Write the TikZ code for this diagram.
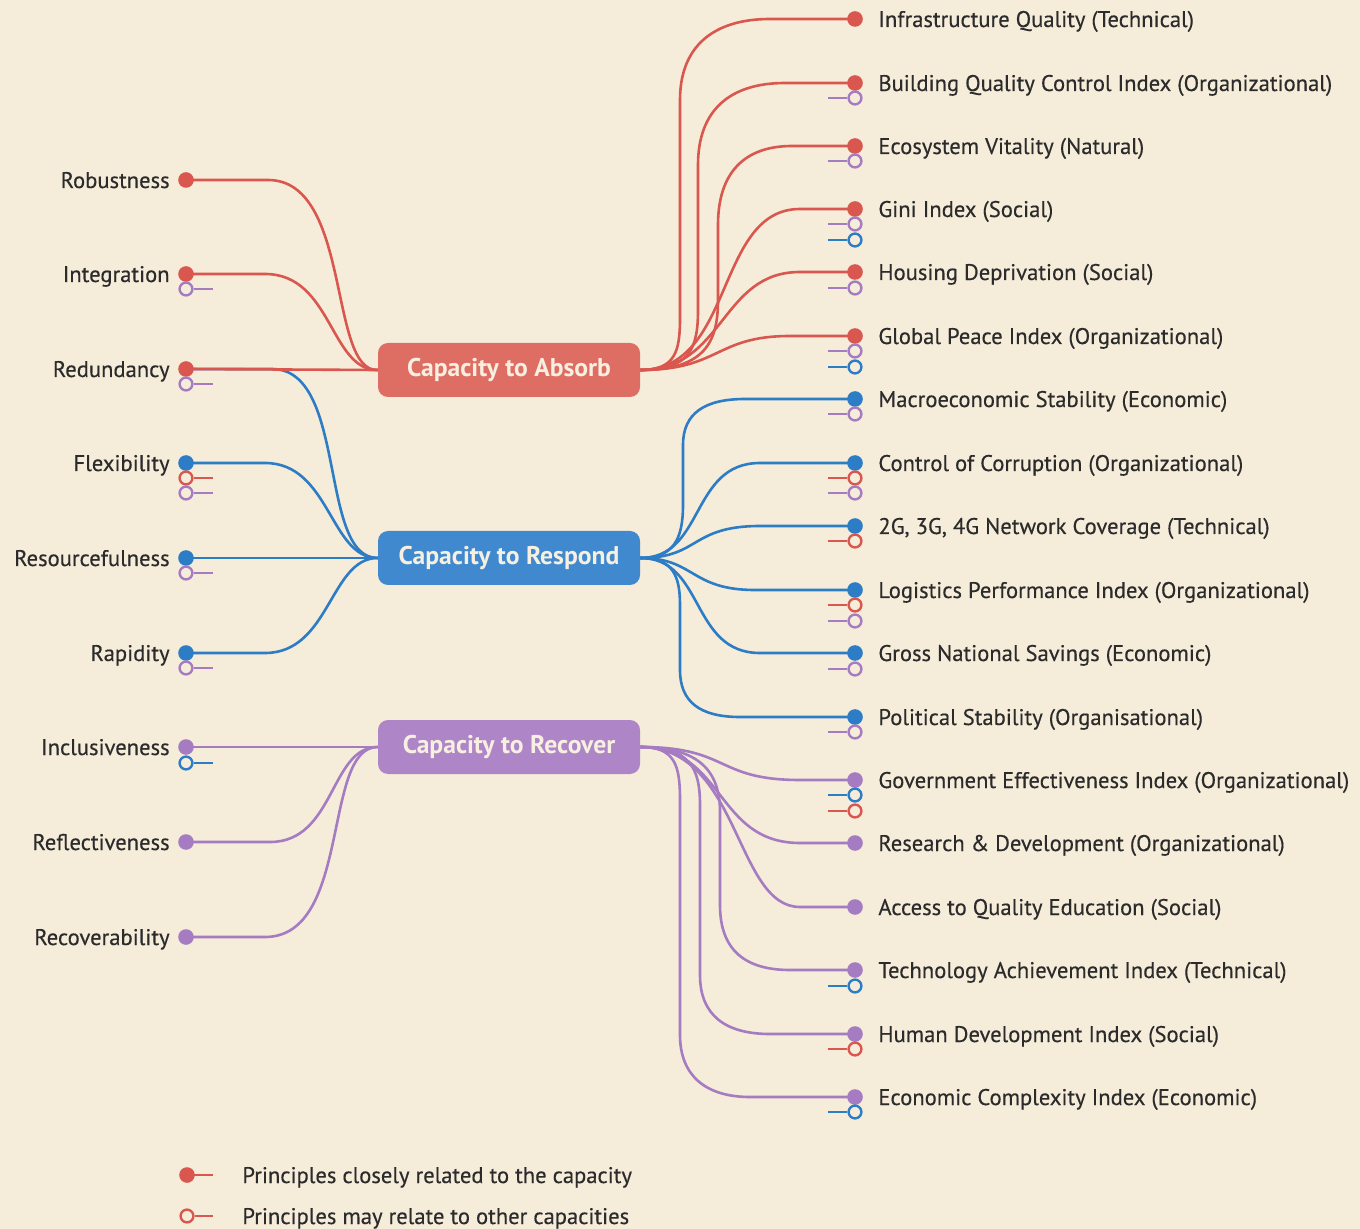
\documentclass[tikz,border=0pt]{standalone}
\usepackage{fontspec}
\setmainfont{PT Sans}
\newfontfamily\labfont{PT Sans}[FakeBold=0.35]
\usetikzlibrary{backgrounds}
\definecolor{bgc}{HTML}{F5ECDA}
\definecolor{cr}{HTML}{D9574E}
\definecolor{cb}{HTML}{2C7CC6}
\definecolor{cp}{HTML}{A57CC2}
\definecolor{fr}{HTML}{DE6E64}
\definecolor{fb}{HTML}{4089CF}
\definecolor{fp}{HTML}{AE86C8}
\definecolor{txt}{HTML}{2B2B2B}
\definecolor{boxtxt}{HTML}{F7EFE0}
\pgfdeclarelayer{lines}
\pgfsetlayers{background,lines,main}
\tikzset{
  conn/.style={line width=1.3pt, line cap=round},
  stub/.style={line width=1.2pt},
  dot/.style={circle, fill=#1, minimum size=7.8pt, inner sep=0pt},
  omark/.style={circle, draw=#1, fill=bgc, line width=1.2pt, minimum size=6.4pt, inner sep=0pt},
  capbox/.style={rounded corners=5pt, fill=#1, minimum width=131pt, minimum height=27pt,
    text=boxtxt, font=\bfseries\fontsize{12.8}{14}\selectfont},
  ltxt/.style={anchor=east, text=txt, inner sep=0pt, text height=8pt, text depth=0pt,
    font=\labfont\fontsize{11.3}{13}\selectfont},
  rtxt/.style={anchor=west, text=txt, inner sep=0pt, text height=8pt, text depth=0pt,
    font=\labfont\fontsize{11.3}{13}\selectfont},
}
\newcommand\LM[3]{\node[omark=#3] (#1) at (186,#2) {};
  \coordinate (#1e) at (213,#2); \draw[stub,#3] (#1.east) -- (#1e);}
\newcommand\RM[3]{\node[omark=#3] (#1) at (855,#2) {};
  \coordinate (#1e) at (828,#2); \draw[stub,#3] (#1e) -- (#1.west);}
\begin{document}
\begin{tikzpicture}[x=0.5pt,y=-0.5pt]
\begin{pgfonlayer}{background}
\fill[bgc] (0,0) rectangle (1360,1229);
\end{pgfonlayer}
\useasboundingbox (0,0) rectangle (1360,1229);

% capacity boxes
\node[capbox=fr] (abs) at (509,370) {Capacity to Absorb};
\node[capbox=fb] (resp) at (509,558) {Capacity to Respond};
\node[capbox=fp] (rec) at (509,747) {Capacity to Recover};

% left principles
\node[dot=cr] (rob) at (186,180) {}; \node[ltxt] (robL) at (170,180) {Robustness};
\node[dot=cr] (integ) at (186,274) {}; \node[ltxt] (integL) at (170,274) {Integration};
\node[dot=cr] (redu) at (186,369) {}; \node[ltxt] (reduL) at (170,369) {Redundancy};
\node[dot=cb] (flex) at (186,463) {}; \node[ltxt] (flexL) at (170,463) {Flexibility};
\node[dot=cb] (resf) at (186,558) {}; \node[ltxt] (resfL) at (170,558) {Resourcefulness};
\node[dot=cb] (rap) at (186,653) {}; \node[ltxt] (rapL) at (170,653) {Rapidity};
\node[dot=cp] (incl) at (186,747) {}; \node[ltxt] (inclL) at (170,747) {Inclusiveness};
\node[dot=cp] (refl) at (186,842) {}; \node[ltxt] (reflL) at (170,842) {Reflectiveness};
\node[dot=cp] (recov) at (186,937) {}; \node[ltxt] (recovL) at (170,937) {Recoverability};

% left markers
\LM{la}{289}{cp}
\LM{lb}{384}{cp}
\LM{lc}{478}{cr}
\LM{ld}{493}{cp}
\LM{le}{573}{cp}
\LM{lf}{668}{cp}
\LM{lg}{763}{cb}

% right indicators
\node[dot=cr] (iq) at (855,19) {}; \node[rtxt] (iqL) at (878,19) {Infrastructure Quality (Technical)};
\node[dot=cr] (bq) at (855,83) {}; \node[rtxt] (bqL) at (878,83) {Building Quality Control Index (Organizational)};
\node[dot=cr] (ev) at (855,146) {}; \node[rtxt] (evL) at (878,146) {Ecosystem Vitality (Natural)};
\node[dot=cr] (gi) at (855,209) {}; \node[rtxt] (giL) at (878,209) {Gini Index (Social)};
\node[dot=cr] (hd) at (855,272) {}; \node[rtxt] (hdL) at (878,272) {Housing Deprivation (Social)};
\node[dot=cr] (gp) at (855,336) {}; \node[rtxt] (gpL) at (878,336) {Global Peace Index (Organizational)};
\node[dot=cb] (ms) at (855,399) {}; \node[rtxt] (msL) at (878,399) {Macroeconomic Stability (Economic)};
\node[dot=cb] (cc) at (855,463) {}; \node[rtxt] (ccL) at (878,463) {Control of Corruption (Organizational)};
\node[dot=cb] (nc) at (855,526) {}; \node[rtxt] (ncL) at (878,526) {2G, 3G, 4G Network Coverage (Technical)};
\node[dot=cb] (lp) at (855,590) {}; \node[rtxt] (lpL) at (878,590) {Logistics Performance Index (Organizational)};
\node[dot=cb] (gs) at (855,653) {}; \node[rtxt] (gsL) at (878,653) {Gross National Savings (Economic)};
\node[dot=cb] (ps) at (855,717) {}; \node[rtxt] (psL) at (878,717) {Political Stability (Organisational)};
\node[dot=cp] (ge) at (855,780) {}; \node[rtxt] (geL) at (878,780) {Government Effectiveness Index (Organizational)};
\node[dot=cp] (rd) at (855,843) {}; \node[rtxt] (rdL) at (878,843) {Research \& Development (Organizational)};
\node[dot=cp] (ae) at (855,907) {}; \node[rtxt] (aeL) at (878,907) {Access to Quality Education (Social)};
\node[dot=cp] (ta) at (855,970) {}; \node[rtxt] (taL) at (878,970) {Technology Achievement Index (Technical)};
\node[dot=cp] (hdi) at (855,1034) {}; \node[rtxt] (hdiL) at (878,1034) {Human Development Index (Social)};
\node[dot=cp] (eci) at (855,1097) {}; \node[rtxt] (eciL) at (878,1097) {Economic Complexity Index (Economic)};

% right markers
\RM{ra}{98}{cp}
\RM{rb}{161}{cp}
\RM{rc}{224}{cp}
\RM{rd2}{240}{cb}
\RM{re}{288}{cp}
\RM{rf}{351}{cp}
\RM{rg}{367}{cb}
\RM{rh}{414}{cp}
\RM{ri}{478}{cr}
\RM{rj}{493}{cp}
\RM{rk}{541}{cr}
\RM{rl}{605}{cr}
\RM{rm}{621}{cp}
\RM{rn}{669}{cp}
\RM{ro}{732}{cp}
\RM{rp}{795}{cb}
\RM{rq}{811}{cr}
\RM{rr}{986}{cb}
\RM{rs}{1049}{cr}
\RM{rt}{1112}{cb}

% legend
\node[dot=cr] (lg1) at (187,1175) {};
\coordinate (lg1e) at (213,1175);
\draw[stub,cr] (lg1.center) -- (lg1e);
\node[rtxt] (lg1L) at (242,1175) {Principles closely related to the capacity};
\node[omark=cr] (lg2) at (187,1216) {};
\coordinate (lg2e) at (213,1216);
\draw[stub,cr] (lg2.east) -- (lg2e);
\node[rtxt] (lg2L) at (242,1216) {Principles may relate to other capacities};

\begin{pgfonlayer}{lines}
% left side
\draw[conn,cr] (rob.center) -- (268,180) .. controls (352,180) and (328,372) .. (abs.west);
\draw[conn,cr] (integ.center) -- (265,274) .. controls (332,274) and (330,370) .. (abs.west);
\draw[conn,cb] (redu.center) -- (272,369) .. controls (348,369) and (318,558) .. (resp.west);
\draw[conn,cr] (redu.center) -- (abs.west);
\draw[conn,cb] (flex.center) -- (265,463) .. controls (330,463) and (330,558) .. (resp.west);
\draw[conn,cb] (resf.center) -- (resp.west);
\draw[conn,cb] (rap.center) -- (265,653) .. controls (330,653) and (330,558) .. (resp.west);
\draw[conn,cp] (incl.center) -- (rec.west);
\draw[conn,cp] (refl.center) -- (270,842) .. controls (335,842) and (330,747) .. (rec.west);
\draw[conn,cp] (recov.center) -- (265,937) .. controls (352,937) and (322,747) .. (rec.west);
% absorb right
\draw[conn,cr] (abs.east) .. controls (675,370) and (680,352) .. (680,318) -- (680,100) .. controls (680,45) and (715,19) .. (770,19) -- (iq.center);
\draw[conn,cr] (abs.east) .. controls (690,370) and (698,348) .. (698,310) -- (698,165) .. controls (698,110) and (730,83) .. (785,83) -- (bq.center);
\draw[conn,cr] (abs.east) .. controls (705,370) and (718,342) .. (718,300) -- (718,225) .. controls (718,172) and (745,146) .. (792,146) -- (ev.center);
\draw[conn,cr] (abs.east) .. controls (735,370) and (715,209) .. (800,209) -- (gi.center);
\draw[conn,cr] (abs.east) .. controls (725,370) and (720,272) .. (800,272) -- (hd.center);
\draw[conn,cr] (abs.east) .. controls (720,370) and (715,336) .. (790,336) -- (gp.center);
% respond right
\draw[conn,cb] (resp.east) .. controls (673,558) and (683,540) .. (683,505) -- (683,445) .. controls (683,413) and (705,399) .. (745,399) -- (ms.center);
\draw[conn,cb] (resp.east) .. controls (705,558) and (690,463) .. (760,463) -- (cc.center);
\draw[conn,cb] (resp.east) .. controls (700,558) and (690,526) .. (760,526) -- (nc.center);
\draw[conn,cb] (resp.east) .. controls (695,558) and (690,590) .. (755,590) -- (lp.center);
\draw[conn,cb] (resp.east) .. controls (705,558) and (690,653) .. (760,653) -- (gs.center);
\draw[conn,cb] (resp.east) .. controls (673,558) and (680,576) .. (680,605) -- (680,670) .. controls (680,702) and (700,717) .. (740,717) -- (ps.center);
% recover right
\draw[conn,cp] (rec.east) .. controls (730,747) and (715,780) .. (800,780) -- (ge.center);
\draw[conn,cp] (rec.east) .. controls (725,747) and (715,843) .. (800,843) -- (rd.center);
\draw[conn,cp] (rec.east) .. controls (740,747) and (735,907) .. (800,907) -- (ae.center);
\draw[conn,cp] (rec.east) .. controls (700,747) and (720,772) .. (720,812) -- (720,905) .. controls (720,950) and (745,970) .. (790,970) -- (ta.center);
\draw[conn,cp] (rec.east) .. controls (690,747) and (700,768) .. (700,805) -- (700,975) .. controls (700,1015) and (725,1034) .. (770,1034) -- (hdi.center);
\draw[conn,cp] (rec.east) .. controls (675,747) and (680,765) .. (680,800) -- (680,1035) .. controls (680,1075) and (705,1097) .. (750,1097) -- (eci.center);
\end{pgfonlayer}
\end{tikzpicture}
\end{document}
